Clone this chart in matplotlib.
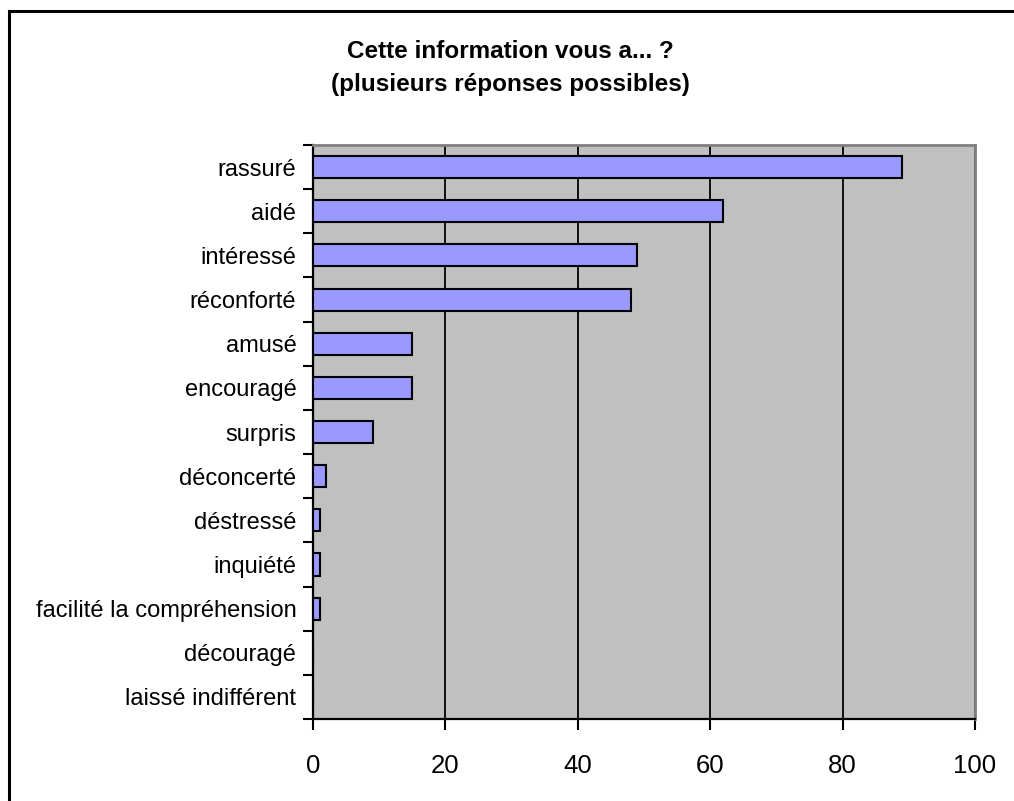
import matplotlib.pyplot as plt
import matplotlib.patches as patches
import numpy as np

plt.rcParams['font.family'] = ['Liberation Sans', 'DejaVu Sans']

# === Données ===
categories = ["rassuré", "aidé", "intéressé", "réconforté", "amusé", "encouragé",
              "surpris", "déconcerté", "déstressé", "inquiété",
              "facilité la compréhension", "découragé", "laissé indifférent"]
values = [89, 62, 49, 48, 15, 15, 9, 2, 1, 1, 1, 0, 0]
x_ticks = [0, 20, 40, 60, 80, 100]
title = "Cette information vous a... ?\n(plusieurs réponses possibles)"

W, H = 1014, 801
fig = plt.figure(figsize=(W / 100, H / 100), dpi=100)

# cadre extérieur (coin haut-gauche visible seulement)
fig.patches.append(patches.Rectangle((9 / W, -0.1), 1.2, 1 - 11 / H + 0.1,
                                     transform=fig.transFigure, fill=False,
                                     edgecolor='black', linewidth=2.2))

ax = fig.add_axes([313 / W, 1 - 719 / H, (975 - 313) / W, (719 - 145) / H])
ax.set_facecolor('#C0C0C0')

y = np.arange(len(categories))
ax.barh(y, values, height=0.5, color='#9999FF', edgecolor='black', linewidth=1.5, zorder=3)

ax.set_xlim(0, 100)
ax.set_ylim(len(categories) - 0.5, -0.5)
ax.set_xticks(x_ticks)
ax.set_xticklabels([str(t) for t in x_ticks], fontsize=18.5)
ax.grid(axis='x', color='black', linewidth=1.3, zorder=1)
ax.set_axisbelow(True)

ax.set_yticks(y)
ax.set_yticklabels(categories, fontsize=17)
ax.set_yticks(np.arange(len(categories) + 1) - 0.5, minor=True)
ax.tick_params(axis='y', which='major', length=0, pad=12)
ax.tick_params(axis='y', which='minor', length=7, width=1.5, direction='out')
ax.tick_params(axis='x', length=8, width=1.5, direction='out', pad=17)

for s in ['left', 'bottom']:
    ax.spines[s].set_color('black')
    ax.spines[s].set_linewidth(1.6)
for s in ['top', 'right']:
    ax.spines[s].set_color('#808080')
    ax.spines[s].set_linewidth(2)

fig.text(510 / W, 1 - 68 / H, title, ha='center', va='center', fontsize=17.5,
         fontweight='bold', linespacing=1.6)

plt.savefig('out.png', dpi=100)
plt.close()
